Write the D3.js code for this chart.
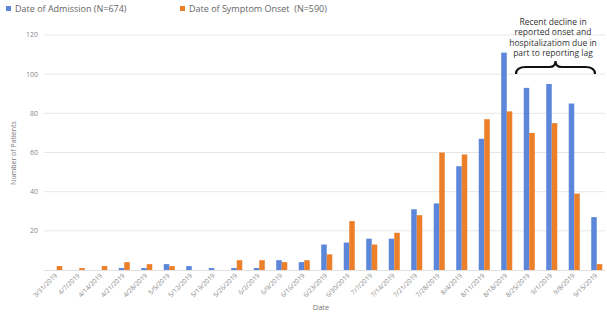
<!DOCTYPE html>
<html>
<head>
<meta charset="utf-8">
<script src="https://cdn.jsdelivr.net/npm/d3@7"></script>
<style>
  body { margin: 0; background: #fff; }
  svg { display: block; font-family: "Open Sans", sans-serif; }
</style>
</head>
<body>
<svg id="chart"></svg>
<script>
const WEEKS = ["3/31/2019", "4/7/2019", "4/14/2019", "4/21/2019", "4/28/2019", "5/5/2019",
    "5/12/2019", "5/19/2019", "5/26/2019", "6/2/2019", "6/9/2019", "6/16/2019", "6/23/2019",
    "6/30/2019", "7/7/2019", "7/14/2019", "7/21/2019", "7/28/2019", "8/4/2019", "8/11/2019",
    "8/18/2019", "8/25/2019", "9/1/2019", "9/8/2019", "9/15/2019"];

const ADMISSION = [0, 0, 0, 1, 1, 3, 2, 1, 1, 1, 5, 4, 13, 14, 16, 16, 31, 34, 53, 67, 111, 93, 95, 85, 27];
const ONSET = [2, 1, 2, 4, 3, 2, 0, 0, 5, 5, 4, 5, 8, 25, 13, 19, 28, 60, 59, 77, 81, 70, 75, 39, 3];

const SERIES = ["Date of Admission (N=674)", "Date of Symptom Onset  (N=590)"];
const Y_TICKS = [20, 40, 60, 80, 100, 120];
const NOTE = ["Recent decline in", "reported onset and", "hospitalizatiom due in", "part to reporting lag"];

const WIDTH = 607;
const HEIGHT = 315;
const COLORS = ["#5b86d9", "#ec7f2a"];

let svg = d3.select("#chart")
    .attr("width", WIDTH)
    .attr("height", HEIGHT);

// outer band per week, inner band per series
let x0 = d3.scaleBand()
    .domain(WEEKS)
    .range([45.5, 608])
    .paddingInner(0.51)
    .paddingOuter(0.255);

let x1 = d3.scaleBand()
    .domain([0, 1])
    .range([0, x0.bandwidth()]);

let y = d3.scaleLinear()
    .domain([0, 120])
    .range([270, 35]);

// gridlines
svg.append("g")
    .selectAll("line")
    .data(Y_TICKS)
    .enter()
    .append("line")
    .attr("x1", 44)
    .attr("x2", 605)
    .attr("y1", d => y(d))
    .attr("y2", d => y(d))
    .attr("stroke", "#e6e6e6")
    .attr("stroke-width", 1);

// y tick labels
svg.append("g")
    .selectAll("text")
    .data(Y_TICKS)
    .enter()
    .append("text")
    .attr("x", 38)
    .attr("y", d => y(d))
    .attr("dy", "0.35em")
    .attr("text-anchor", "end")
    .attr("font-size", "7px")
    .attr("fill", "#888")
    .text(d => d);

// bars
let groups = svg.append("g")
    .selectAll("g")
    .data(WEEKS)
    .enter()
    .append("g")
    .attr("transform", d => `translate(${x0(d)},0)`);

groups.selectAll("rect")
    .data((d, i) => [ADMISSION[i], ONSET[i]])
    .enter()
    .append("rect")
    .attr("x", (d, j) => x1(j))
    .attr("width", x1.bandwidth())
    .attr("y", d => y(d))
    .attr("height", d => y(0) - y(d))
    .attr("fill", (d, j) => COLORS[j]);

// baseline
svg.append("line")
    .attr("x1", 44).attr("x2", 605)
    .attr("y1", y(0) + 0.5).attr("y2", y(0) + 0.5)
    .attr("stroke", "#e0e0e0");

// x tick labels, rotated
svg.append("g")
    .selectAll("text")
    .data(WEEKS)
    .enter()
    .append("text")
    .attr("transform", d => `translate(${x0(d) + x0.bandwidth() / 2 + 1},${276}) rotate(-45)`)
    .attr("text-anchor", "end")
    .attr("font-size", "6.5px")
    .attr("fill", "#888")
    .text(d => d);

// axis titles
svg.append("text")
    .attr("x", 321)
    .attr("y", 310)
    .attr("text-anchor", "middle")
    .attr("font-size", "7.5px")
    .attr("fill", "#777")
    .text("Date");

svg.append("text")
    .attr("transform", "translate(16,153) rotate(-90)")
    .attr("text-anchor", "middle")
    .attr("font-size", "7px")
    .attr("fill", "#777")
    .text("Number of Patients");

// legend
let legendX = [6, 180];
let legend = svg.append("g")
    .selectAll("g")
    .data(SERIES)
    .enter()
    .append("g")
    .attr("transform", (d, i) => `translate(${legendX[i]},5)`);

legend.append("rect")
    .attr("width", 5)
    .attr("height", 5)
    .attr("y", 1)
    .attr("fill", (d, i) => COLORS[i]);

legend.append("text")
    .attr("x", 9)
    .attr("y", 3.5)
    .attr("dy", "0.35em")
    .attr("font-size", "9px")
    .attr("fill", "#666")
    .style("white-space", "pre")
    .text(d => d);

// annotation
svg.append("g")
    .selectAll("text")
    .data(NOTE)
    .enter()
    .append("text")
    .attr("x", 553)
    .attr("y", (d, i) => 25 + i * 10.3)
    .attr("text-anchor", "middle")
    .attr("font-size", "8.5px")
    .attr("fill", "#333")
    .text(d => d);

// curly brace over the last weeks
let bx1 = 516, bx2 = 595, bm = (bx1 + bx2) / 2, bTop = 61, bBot = 74;
svg.append("path")
    .attr("d", `M${bx1},${bBot} Q${bx1},${bTop + 6} ${bx1 + 10},${bTop + 6}
        L${bm - 6},${bTop + 6} Q${bm},${bTop + 6} ${bm},${bTop}
        Q${bm},${bTop + 6} ${bm + 6},${bTop + 6}
        L${bx2 - 10},${bTop + 6} Q${bx2},${bTop + 6} ${bx2},${bBot}`)
    .attr("fill", "none")
    .attr("stroke", "#111")
    .attr("stroke-width", 2.2);
</script>
</body>
</html>
